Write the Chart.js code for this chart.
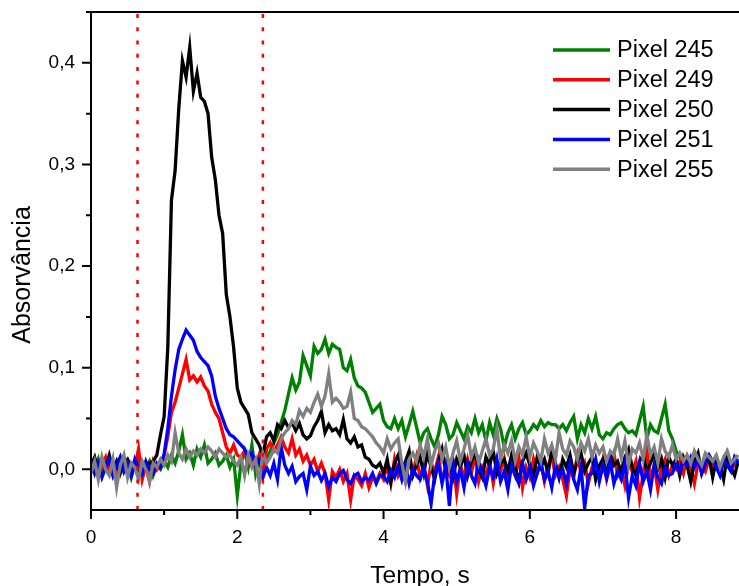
<!DOCTYPE html>
<html>
<head>
<meta charset="utf-8">
<script src="https://cdn.jsdelivr.net/npm/chart.js@4/dist/chart.umd.min.js"></script>
<style>
  html, body { margin: 0; padding: 0; background: #fff; }
  canvas { display: block; }
</style>
</head>
<body>
<canvas id="chart" width="739" height="586"></canvas>
<script>
// sampling step of the time axis (s)
const dt = 0.05;

const p245 = [
  0.006, 0.000, 0.010, -0.004, 0.008, 0.002, -0.006, 0.004, 0.012, -0.002,
  0.006, -0.008, 0.004, 0.010, -0.004, 0.002, 0.008, -0.006, 0.004, 0.000,
  0.008, 0.002, 0.014, 0.006, 0.018, 0.034, 0.010, 0.016, 0.004, 0.020,
  0.012, 0.024, 0.006, 0.010, 0.016, 0.004, 0.008, 0.014, 0.002, 0.010,
  -0.026, 0.006, 0.018, 0.002, 0.024, -0.004, 0.012, 0.004, 0.010, 0.018,
  0.026, 0.034, 0.046, 0.058, 0.074, 0.090, 0.078, 0.086, 0.112, 0.102,
  0.092, 0.121, 0.114, 0.118, 0.128, 0.114, 0.123, 0.120, 0.118, 0.100,
  0.097, 0.108, 0.090, 0.082, 0.080, 0.076, 0.066, 0.056, 0.060, 0.064,
  0.048, 0.042, 0.040, 0.050, 0.040, 0.048, 0.032, 0.044, 0.057, 0.042,
  0.026, 0.036, 0.040, 0.030, 0.022, 0.034, 0.052, 0.044, 0.030, 0.034,
  0.046, 0.038, 0.030, 0.042, 0.036, 0.050, 0.036, 0.044, 0.028, 0.046,
  0.034, 0.050, 0.040, 0.022, 0.036, 0.044, 0.030, 0.040, 0.046, 0.034,
  0.038, 0.044, 0.040, 0.048, 0.042, 0.046, 0.044, 0.044, 0.040, 0.044,
  0.038, 0.046, 0.052, 0.030, 0.044, 0.036, 0.050, 0.040, 0.052, 0.034,
  0.030, 0.036, 0.034, 0.040, 0.044, 0.046, 0.040, 0.036, 0.038, 0.034,
  0.048, 0.062, 0.030, 0.044, 0.038, 0.036, 0.050, 0.064, 0.038, 0.030,
  0.018, 0.012, 0.008, 0.002, 0.010, 0.004, 0.008, -0.002, 0.006, 0.010,
  0.004, 0.008, 0.000, 0.010, 0.006, 0.002, 0.012, 0.008
];

const p249 = [
  0.002, 0.010, -0.006, 0.004, 0.012, -0.002, 0.006, -0.008, 0.008, 0.000,
  -0.004, 0.006, 0.002, 0.020, -0.010, 0.004, -0.012, 0.008, 0.000, 0.006,
  0.014, 0.032, 0.056, 0.066, 0.080, 0.094, 0.108, 0.088, 0.092, 0.086,
  0.091, 0.082, 0.077, 0.064, 0.056, 0.050, 0.036, 0.022, 0.016, 0.024,
  0.014, 0.012, 0.018, 0.006, 0.010, 0.002, 0.014, -0.006, 0.020, 0.026,
  0.018, 0.024, 0.032, 0.022, 0.016, 0.030, 0.014, 0.020, 0.008, 0.014,
  0.004, 0.010, -0.002, 0.006, -0.004, -0.030, -0.002, -0.008, 0.000, -0.012,
  -0.004, -0.030, -0.006, -0.010, -0.016, -0.004, -0.018, -0.008, -0.012, -0.004,
  -0.010, 0.004, -0.014, 0.010, -0.006, 0.002, -0.012, 0.008, -0.004, 0.012,
  -0.008, 0.004, -0.016, 0.006, -0.002, 0.012, -0.010, 0.000, -0.006, 0.008,
  -0.024, 0.004, -0.008, 0.010, -0.004, 0.014, -0.012, 0.002, -0.006, 0.008,
  -0.014, 0.006, -0.002, 0.010, -0.010, 0.004, -0.006, 0.012, -0.018, 0.002,
  -0.008, 0.010, -0.004, 0.006, -0.012, 0.004, 0.012, -0.006, 0.002, -0.010,
  -0.026, 0.000, -0.008, 0.014, -0.004, 0.006, -0.014, 0.002, 0.008, -0.006,
  0.010, -0.010, 0.004, 0.016, -0.006, 0.002, -0.016, 0.006, -0.002, 0.008,
  -0.028, -0.004, 0.020, -0.010, 0.004, -0.020, 0.002, 0.010, -0.006, 0.004,
  0.000, 0.008, -0.004, 0.012, 0.002, -0.014, 0.006, 0.004, -0.002, 0.010,
  0.002, 0.008, -0.004, 0.006, 0.010, 0.000, 0.004, 0.008
];

const p250 = [
  0.004, 0.012, -0.002, 0.010, 0.002, 0.014, 0.000, 0.008, -0.004, 0.006,
  0.010, 0.002, 0.008, -0.002, 0.004, 0.000, 0.006, 0.008, 0.014, 0.034,
  0.052, 0.120, 0.265, 0.294, 0.355, 0.402, 0.386, 0.415, 0.372, 0.390,
  0.366, 0.362, 0.350, 0.307, 0.285, 0.250, 0.232, 0.172, 0.150, 0.120,
  0.080, 0.066, 0.060, 0.054, 0.036, 0.030, 0.024, 0.014, 0.032, 0.036,
  0.028, 0.044, 0.040, 0.048, 0.041, 0.046, 0.038, 0.045, 0.034, 0.030,
  0.033, 0.042, 0.048, 0.057, 0.036, 0.044, 0.038, 0.040, 0.034, 0.049,
  0.030, 0.026, 0.032, 0.022, 0.024, 0.012, 0.010, 0.004, 0.002, 0.006,
  -0.004, 0.010, -0.012, 0.006, 0.014, -0.002, 0.008, 0.018, -0.006, 0.004,
  0.012, -0.004, 0.016, 0.002, -0.010, 0.008, 0.020, -0.002, 0.006, -0.008,
  0.010, 0.002, 0.014, -0.006, 0.008, 0.016, 0.000, -0.008, 0.012, 0.004,
  0.018, -0.004, 0.006, 0.010, -0.002, 0.014, 0.002, -0.012, 0.008, 0.016,
  0.004, -0.006, 0.012, 0.002, 0.010, -0.004, 0.020, 0.006, -0.008, 0.010,
  0.002, 0.014, -0.004, 0.008, 0.016, -0.002, 0.006, 0.012, -0.010, 0.004,
  0.010, -0.006, 0.014, 0.004, 0.008, -0.004, 0.012, 0.020, 0.002, -0.006,
  0.008, 0.014, -0.002, 0.006, 0.016, 0.000, 0.010, -0.008, 0.012, 0.004,
  0.010, -0.006, 0.012, 0.004, -0.012, 0.008, 0.016, -0.004, 0.006, 0.012,
  -0.008, 0.010, 0.004, -0.010, 0.014, 0.002, -0.006, 0.008
];

const p251 = [
  0.008, -0.004, 0.006, -0.008, 0.002, 0.010, -0.006, 0.004, 0.012, -0.002,
  0.006, -0.006, 0.010, 0.002, -0.004, 0.008, 0.000, -0.004, 0.006, 0.002,
  0.015, 0.040, 0.072, 0.098, 0.118, 0.128, 0.137, 0.132, 0.127, 0.116,
  0.110, 0.106, 0.102, 0.092, 0.072, 0.060, 0.050, 0.040, 0.034, 0.032,
  0.028, 0.024, 0.020, 0.012, 0.016, 0.004, 0.010, -0.008, 0.002, -0.006,
  0.006, -0.010, 0.022, 0.004, -0.004, 0.003, -0.012, -0.007, -0.004, -0.020,
  0.003, -0.006, -0.002, -0.011, -0.004, -0.017, -0.008, -0.012, -0.004, -0.001,
  -0.010, -0.014, -0.006, -0.004, -0.012, -0.008, -0.011, -0.004, -0.014, -0.006,
  -0.007, -0.012, -0.001, -0.008, 0.003, -0.010, 0.004, -0.014, 0.000, -0.006,
  -0.010, 0.002, -0.012, -0.034, -0.004, 0.006, -0.014, 0.004, -0.036, 0.008,
  -0.012, 0.000, -0.018, 0.006, -0.006, -0.014, 0.008, -0.004, -0.016, 0.002,
  -0.008, 0.010, -0.012, -0.002, -0.020, 0.004, -0.006, -0.014, 0.006, -0.010,
  0.002, -0.016, -0.004, 0.008, -0.010, -0.002, -0.018, 0.004, -0.008, 0.000,
  -0.014, 0.006, -0.010, -0.020, 0.002, -0.038, -0.006, -0.004, 0.010, -0.012,
  0.004, -0.008, 0.008, -0.014, -0.002, -0.010, 0.006, -0.028, -0.006, -0.016,
  0.006, -0.012, -0.002, -0.020, 0.004, -0.008, -0.014, 0.002, -0.006, -0.004,
  0.006, -0.002, 0.008, 0.004, 0.012, 0.002, 0.010, -0.004, 0.006, 0.014,
  0.008, 0.002, -0.006, 0.010, 0.004, -0.002, 0.012, 0.006
];

const p255 = [
  -0.004, 0.008, -0.010, 0.012, 0.000, -0.006, 0.010, -0.018, 0.004, 0.014,
  -0.008, 0.006, 0.002, -0.010, 0.008, 0.000, -0.012, 0.006, 0.002, 0.010,
  0.004, 0.014, 0.008, 0.036, 0.016, 0.010, 0.020, 0.012, 0.018, 0.014,
  0.020, 0.016, 0.022, 0.018, 0.012, 0.020, 0.016, 0.012, 0.014, 0.008,
  0.004, 0.012, -0.006, 0.014, 0.002, 0.010, -0.014, 0.016, 0.006, 0.012,
  0.020, 0.016, 0.030, 0.036, 0.040, 0.048, 0.044, 0.058, 0.052, 0.060,
  0.056, 0.066, 0.074, 0.062, 0.072, 0.094, 0.066, 0.070, 0.066, 0.060,
  0.062, 0.076, 0.050, 0.048, 0.042, 0.040, 0.036, 0.032, 0.026, 0.022,
  0.016, 0.030, 0.020, 0.026, 0.030, 0.006, -0.012, 0.010, 0.016, 0.008,
  0.024, 0.012, 0.030, 0.004, 0.018, 0.026, 0.010, 0.022, 0.002, 0.016,
  0.028, 0.008, 0.020, 0.034, 0.012, 0.022, 0.006, 0.018, 0.030, 0.014,
  0.020, 0.040, 0.010, 0.024, 0.016, 0.028, 0.008, 0.022, 0.014, 0.032,
  0.012, 0.026, 0.018, 0.008, 0.030, 0.016, 0.024, 0.010, 0.036, 0.020,
  0.014, 0.028, 0.022, 0.010, 0.026, 0.018, 0.030, 0.012, 0.024, 0.016,
  0.022, 0.008, 0.018, 0.014, 0.030, 0.012, 0.028, 0.004, 0.020, 0.016,
  0.026, 0.010, 0.034, 0.014, 0.022, 0.006, 0.030, 0.018, 0.012, 0.024,
  0.010, 0.016, 0.008, 0.014, 0.006, 0.018, 0.010, 0.004, 0.016, 0.012,
  0.008, 0.014, 0.002, 0.012, 0.018, 0.006, 0.010, 0.014
];

// dotted markers (s)
const marcas = [0.636, 2.35];

const xTicks = [0, 2, 4, 6, 8];
const xMinor = [1, 3, 5, 7];
const yTicks = [0, 0.1, 0.2, 0.3, 0.4];
const yMinor = [0.05, 0.15, 0.25, 0.35, 0.45];

const labels = ["Pixel 245", "Pixel 249", "Pixel 250", "Pixel 251", "Pixel 255"];
const colors = ["#008000", "#ff0000", "#000000", "#0000ff", "#808080"];
const series = [p245, p249, p250, p251, p255];

const tempo = p245.map((_, i) => +(i * dt).toFixed(2));

const FONT = "'Liberation Sans', Arial, sans-serif";
Chart.defaults.font.family = FONT;
Chart.defaults.color = "#000";

const datasets = series.map((s, k) => ({
  label: labels[k],
  data: s.map((v, i) => ({ x: tempo[i], y: v })),
  borderColor: colors[k],
  borderWidth: 3.3,
  pointRadius: 0,
  tension: 0,
  fill: false,
  order: 5 - k, // gray on top, green at the bottom
}));

marcas.forEach((m) => {
  datasets.push({
    label: "",
    data: [{ x: m, y: -0.04 }, { x: m, y: 0.45 }],
    borderColor: "#ff0000",
    borderWidth: 2.5,
    borderDash: [4, 9.3],
    pointRadius: 0,
    order: 0,
  });
});

const framePlugin = {
  id: "frame",
  afterDraw(chart) {
    const { ctx, chartArea: a, scales } = chart;
    const x = scales.x, y = scales.y;
    ctx.save();
    ctx.strokeStyle = "#000";
    ctx.lineWidth = 2;
    ctx.beginPath();
    ctx.moveTo(a.left, a.top);
    ctx.lineTo(a.right, a.top);
    ctx.moveTo(a.left, a.top - 1);
    ctx.lineTo(a.left, a.bottom + 1);
    ctx.moveTo(a.left - 1, a.bottom);
    ctx.lineTo(a.right, a.bottom);
    yTicks.forEach((v) => {
      const py = y.getPixelForValue(v);
      ctx.moveTo(a.left - 9, py);
      ctx.lineTo(a.left, py);
    });
    yMinor.forEach((v) => {
      const py = y.getPixelForValue(v);
      ctx.moveTo(a.left - 5, py);
      ctx.lineTo(a.left, py);
    });
    xTicks.forEach((v) => {
      const px = x.getPixelForValue(v);
      ctx.moveTo(px, a.bottom);
      ctx.lineTo(px, a.bottom + 9);
    });
    xMinor.forEach((v) => {
      const px = x.getPixelForValue(v);
      ctx.moveTo(px, a.bottom);
      ctx.lineTo(px, a.bottom + 5);
    });
    ctx.stroke();

    // legend
    ctx.font = "23.5px " + FONT;
    ctx.textBaseline = "middle";
    ctx.textAlign = "left";
    labels.forEach((lab, k) => {
      const ly = 50 + k * 29.8;
      ctx.strokeStyle = colors[k];
      ctx.lineWidth = 3.5;
      ctx.beginPath();
      ctx.moveTo(553, ly);
      ctx.lineTo(610, ly);
      ctx.stroke();
      ctx.fillStyle = "#000";
      ctx.fillText(lab, 617, ly + 1);
    });

    // axis titles
    ctx.fillStyle = "#000";
    ctx.font = "24.5px " + FONT;
    ctx.textAlign = "center";
    ctx.textBaseline = "alphabetic";
    ctx.fillText("Tempo, s", 420, 583);

    ctx.save();
    ctx.translate(23, 275);
    ctx.rotate(-Math.PI / 2);
    ctx.font = "25px " + FONT;
    ctx.textBaseline = "middle";
    ctx.fillText("Absorvância", 0, 0);
    ctx.restore();
    ctx.restore();
  },
};

new Chart(document.getElementById("chart"), {
  type: "line",
  data: { datasets: datasets },
  options: {
    responsive: false,
    animation: false,
    devicePixelRatio: 1,
    layout: { padding: { top: 12, left: 0, right: 0, bottom: 0 } },
    plugins: {
      legend: { display: false },
      tooltip: { enabled: false },
    },
    scales: {
      x: {
        type: "linear",
        min: 0,
        max: 8.86,
        grid: { display: false, drawTicks: false },
        border: { display: false },
        ticks: {
          font: { size: 19 },
          color: "#000",
          padding: 16,
          maxRotation: 0,
          autoSkip: false,
          callback: (v) => String(v),
        },
        afterBuildTicks: (s) => { s.ticks = xTicks.map((v) => ({ value: v })); },
        afterFit: (s) => {
          s.height = 76;
          s.paddingLeft = 0;
          s.paddingRight = 0;
        },
      },
      y: {
        type: "linear",
        min: -0.04,
        max: 0.45,
        grid: { display: false, drawTicks: false },
        border: { display: false },
        ticks: {
          font: { size: 19 },
          color: "#000",
          padding: 16,
          autoSkip: false,
          callback: (v) => v.toFixed(1).replace(".", ","),
        },
        afterBuildTicks: (s) => { s.ticks = yTicks.map((v) => ({ value: v })); },
        afterFit: (s) => {
          s.width = 91;
          s.paddingTop = 0;
          s.paddingBottom = 0;
        },
      },
    },
  },
  plugins: [framePlugin],
});
</script>
</body>
</html>
